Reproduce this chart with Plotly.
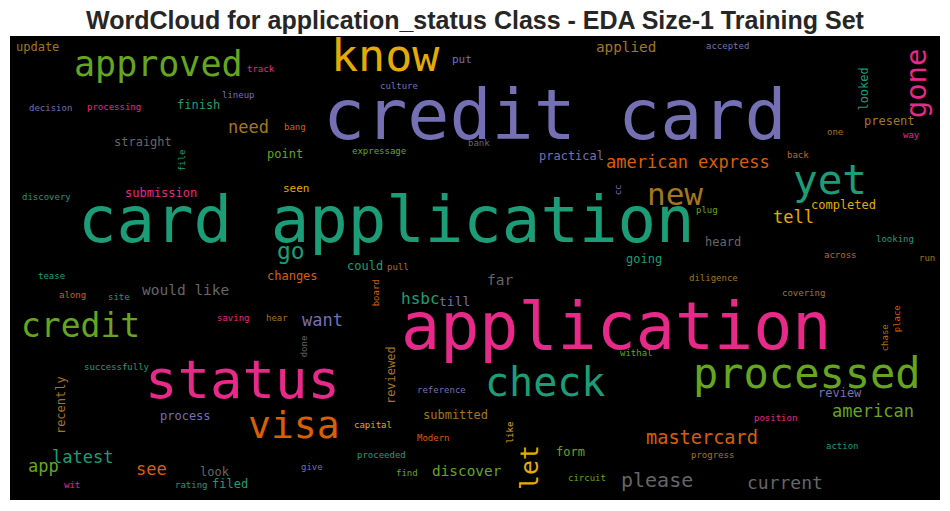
import plotly.graph_objects as go

TITLE = "WordCloud for application_status Class - EDA Size-1 Training Set"

# Dark2 palette used by the word cloud
TEAL, ORANGE, PURPLE, PINK = "#1b9e77", "#d95f02", "#7570b3", "#e7298a"
GREEN, YELLOW, BROWN, GRAY = "#66a61e", "#e6ab02", "#a6761d", "#666666"

# word, font size (weight), x centre, y mid (x-height mid), colour, rotated?
words = ["credit card", "card application", "application", "status", "check",
         "processed", "approved", "know", "yet", "gone", "new", "visa", "credit",
         "let", "mastercard", "american express", "american", "please", "current",
         "need", "tell", "latest", "app", "see", "go", "want", "hsbc", "till", "far",
         "would like", "discover", "applied",
         "update", "finish", "straight", "point", "submission", "seen", "changes",
         "could", "practical", "present", "completed", "heard", "going", "process",
         "look", "filed", "submitted", "form", "review", "recently", "reviewed",
         "put", "looked",
         "track", "lineup", "decision", "processing", "bang", "file", "culture",
         "bank", "expressage", "accepted", "one", "way", "back", "discovery", "cc",
         "tease", "along", "site", "saving", "hear", "pull", "board", "plug",
         "looking", "across", "run", "diligence", "covering", "place", "chase",
         "done", "successfully", "withal", "reference", "capital", "like",
         "Modern", "proceeded", "find", "circuit", "position", "action",
         "progress", "wit", "rating", "give"]

sizes = [70, 64, 65, 54, 40, 42, 35, 45, 41, 29, 31, 38, 33,
         25, 18.6, 17, 17, 20, 18,
         17, 17, 17, 17, 17, 23, 17, 16, 13, 14.5,
         14.5, 14.4, 14.3,
         12, 12, 12, 12, 12, 11, 12,
         12, 12, 12, 12, 12, 12, 12,
         12, 12, 12, 12, 12, 12, 12,
         11, 12,
         9, 9, 9, 9, 9, 9, 9,
         9, 9, 9, 9, 9, 9, 9, 9,
         9, 9, 9, 9, 9, 9, 9, 9,
         9, 9, 9, 9, 9, 9, 9,
         9, 9, 9, 9, 9, 9,
         9, 9, 9, 9, 9, 9,
         9, 9, 9, 9]

xs = [555, 386.5, 616, 242.5, 545, 807, 158.5, 385, 830, 918, 674.5, 293.5, 80,
      531, 701.5, 687.5, 873, 656.5, 785,
      248.5, 793, 82, 43, 151, 291, 322.5, 420, 454, 500,
      185.5, 466.5, 626,
      37.5, 198.5, 142.5, 285, 161, 296, 292,
      364.5, 571, 889.5, 843.5, 723, 644, 185,
      214.5, 230, 455, 570.5, 840, 62, 392,
      462, 864.5,
      261, 238, 50.5, 114, 295, 183, 398.5,
      478.5, 379, 727, 834.5, 911.5, 797.5, 46, 619,
      51, 72.5, 118.5, 233, 276.5, 397.5, 377, 706.5,
      894.5, 840, 927, 713, 803.5, 898, 886,
      305, 116.5, 636, 441, 373, 511,
      433, 381, 407, 587, 775.5, 842.5,
      712.5, 72, 191.5, 311.5]

ys = [120, 224.7, 331.5, 383.4, 385, 376.7, 66.5, 59, 183, 83.5, 196.5, 427.7, 328,
      468, 439, 163, 412.7, 481.5, 484,
      128, 218, 458, 467, 470, 252.7, 321, 300, 302, 281,
      290.7, 472, 48,
      48, 106, 143, 155, 194, 189, 277,
      267, 157, 122, 206, 243, 260, 417,
      473, 485, 416, 453, 394, 405, 375,
      60, 89,
      70, 96, 109, 108, 128, 160, 87,
      144, 152, 47, 133, 136, 156, 198, 190,
      277, 296, 298, 319, 319, 268, 293, 211,
      240, 256, 259, 279, 294, 319, 338,
      346, 368, 354, 391, 426, 432,
      439, 456, 474, 479, 419, 447,
      456, 486, 486, 468]

colors = [PURPLE, TEAL, PINK, PINK, TEAL, GREEN, GREEN, YELLOW, TEAL, PINK, BROWN,
          ORANGE, GREEN, YELLOW, ORANGE, ORANGE, GREEN, GRAY, GRAY,
          BROWN, YELLOW, TEAL, GREEN, ORANGE, TEAL, PURPLE, TEAL, PURPLE, GRAY,
          GRAY, GREEN, BROWN,
          BROWN, TEAL, GRAY, GREEN, PINK, YELLOW, ORANGE,
          TEAL, PURPLE, BROWN, YELLOW, GRAY, TEAL, PURPLE,
          GRAY, TEAL, BROWN, GREEN, PURPLE, BROWN, BROWN,
          PURPLE, TEAL,
          PINK, PURPLE, PURPLE, PINK, ORANGE, TEAL, PURPLE,
          GRAY, GREEN, PURPLE, BROWN, PINK, ORANGE, TEAL, PURPLE,
          TEAL, ORANGE, TEAL, PINK, BROWN, BROWN, ORANGE, GREEN,
          TEAL, ORANGE, BROWN, BROWN, BROWN, ORANGE, BROWN,
          GRAY, TEAL, GREEN, PURPLE, YELLOW, YELLOW,
          ORANGE, TEAL, GREEN, GREEN, PINK, TEAL,
          BROWN, PINK, TEAL, PURPLE]

vertical = {"gone", "let", "recently", "reviewed", "looked", "file", "cc",
            "board", "place", "chase", "done", "like"}

FONT = "DejaVu Sans Mono"
OFF = 0.076  # box centre offset from x-height mid, in em

annotations = []
for w, s, x, y, c in zip(words, sizes, xs, ys, colors):
    if w in vertical:
        ax, ay, ang = x - OFF * s, y, -90
    else:
        ax, ay, ang = x, y - OFF * s, 0
    annotations.append(dict(
        x=ax, y=ay, xref="x", yref="y", text=w, showarrow=False,
        xanchor="center", yanchor="middle", textangle=ang,
        font=dict(family=FONT, size=s, color=c)))

fig = go.Figure()
fig.add_trace(go.Scatter(x=[10, 940], y=[36, 500], mode="markers",
                         marker=dict(opacity=0), hoverinfo="skip",
                         showlegend=False))
fig.update_layout(
    width=950, height=511,
    margin=dict(l=10, r=10, t=36, b=11),
    paper_bgcolor="white", plot_bgcolor="black",
    xaxis=dict(range=[10, 940], visible=False, showgrid=False, zeroline=False),
    yaxis=dict(range=[500, 36], visible=False, showgrid=False, zeroline=False),
    annotations=annotations,
    title=dict(text="<b>" + TITLE + "</b>", x=0.5, xanchor="center",
               y=0.961, yanchor="middle", yref="container",
               font=dict(family="Liberation Sans, Arial", size=25, color="#262626")),
    showlegend=False,
)
fig.write_html("out.html")
